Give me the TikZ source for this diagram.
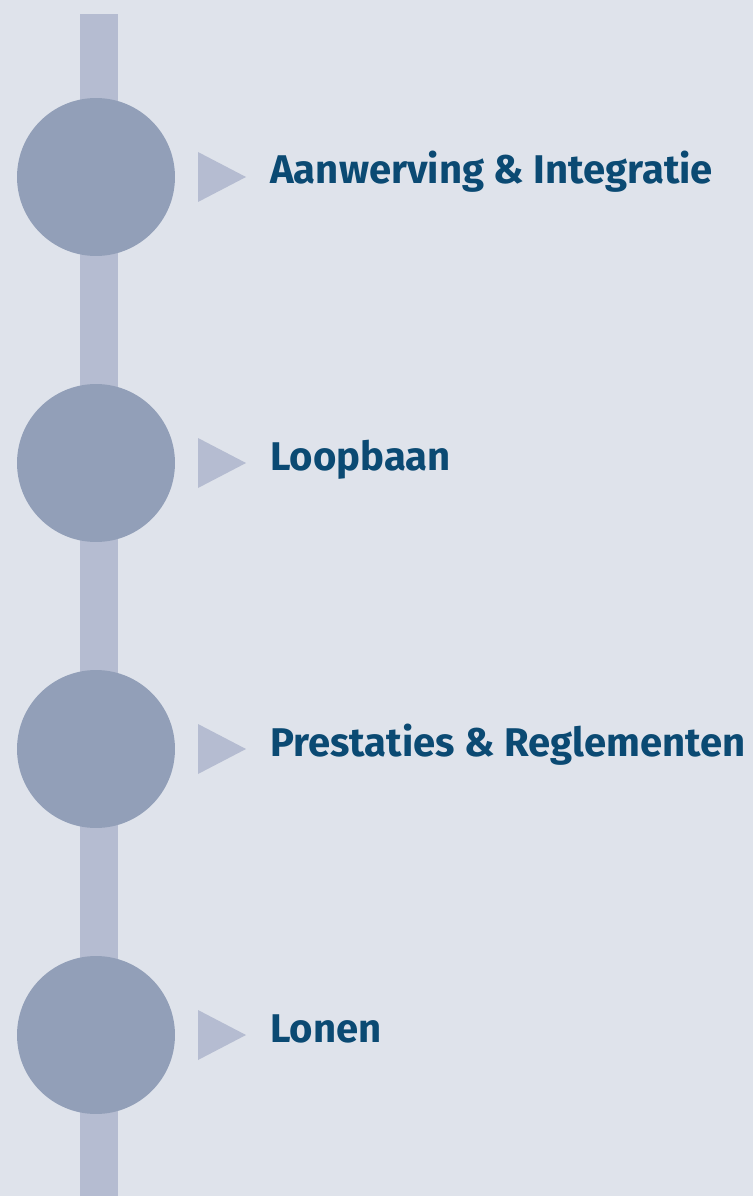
\documentclass[tikz,border=0pt]{standalone}
\usepackage{fontspec}
\setmainfont{Fira Sans}
\definecolor{achtergrond}{HTML}{DFE3EB}
\definecolor{balk}{HTML}{B5BCD1}
\definecolor{bol}{HTML}{929FB8}
\definecolor{tekst}{HTML}{0B4A73}
\begin{document}
\begin{tikzpicture}[x=0.02cm,y=-0.02cm,line join=round,font=\bfseries\fontsize{22.8}{26}\selectfont]
				\tikzset{bol/.style={circle,fill=bol,inner sep=0pt,minimum size=3.16cm},
					pijl/.style={fill=balk},
					stap/.style={anchor=base west,text=tekst,inner sep=0pt}}
				\fill[achtergrond] (0,0) rectangle (753,1196);
				\useasboundingbox (0,0) rectangle (753,1196);
				\fill[balk] (80,14) rectangle (118,1196);
				\foreach \y/\naam/\txt in {177/aanwerving/Aanwerving \& Integratie,463/loopbaan/Loopbaan,749/prestaties/Prestaties \& Reglementen,1035/lonen/Lonen}{
					\node[bol] (b-\naam) at (96,\y) {};
					\fill[pijl] (198,\y-25)--(246,\y)--(198,\y+25)--cycle;
					\node[stap] (t-\naam) at (270,\y+7) {\txt};
				}
			\end{tikzpicture}
\end{document}
